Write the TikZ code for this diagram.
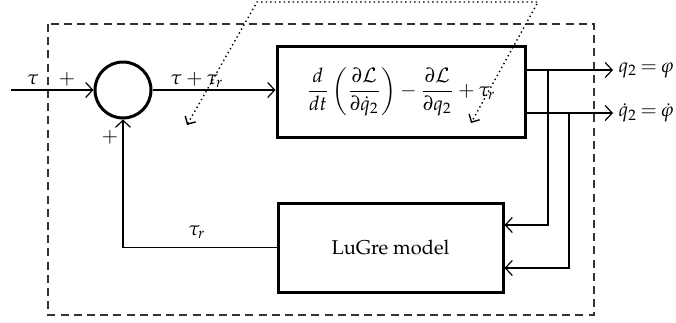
\documentclass[tikz,border=0pt]{standalone}
\usepackage{amsmath}
\usepackage[T1]{fontenc}
\usepackage{mathpazo}
\usetikzlibrary{arrows.meta}
\begin{document}
\begin{tikzpicture}[x=0.5pt,y=-0.5pt,
  blk/.style={draw,line width=1.5pt,inner sep=0pt,align=center},
  sumnode/.style={draw,circle,line width=1.5pt,minimum size=28pt,inner sep=0pt},
  sig/.style={line width=0.6pt,-{Straight Barb[length=3.5pt,width=7.5pt]}},
  plain/.style={line width=0.6pt},
  lbl/.style={inner sep=0pt,font=\normalsize},
  frame/.style={dashed,dash pattern=on 4pt off 2.6pt,line width=0.65pt,draw=black!80},
  dotline/.style={line width=0.7pt,dash pattern=on 0.7pt off 1.55pt,
     {Straight Barb[length=3pt,width=6pt]}-{Straight Barb[length=3pt,width=6pt]}}
]
\useasboundingbox (0,0) rectangle (676,322);
% frame
\draw[frame] (48,24) rectangle (594,315);
% nodes
\node[sumnode] (sum) at (123,90) {};
\node[blk,minimum width=124pt,minimum height=45.5pt] (dyn) at (401,91.5)
  {$\dfrac{d}{dt}\left(\dfrac{\partial\mathcal{L}}{\partial\dot q_2}\right)-\dfrac{\partial\mathcal{L}}{\partial q_2}+\tau_r$};
\node[blk,minimum width=112.5pt,minimum height=44.5pt] (lug) at (390.5,247.5) {LuGre model};
% coordinates
\coordinate (in) at (11,90);
\coordinate (o1) at (613,70);
\coordinate (o2) at (613,113);
\coordinate (b1) at (548,70);
\coordinate (b2) at (569,113);
\coordinate (fb) at (123,247.5);
\coordinate (d1) at (187,125);
\coordinate (d2) at (257,2);
\coordinate (d3) at (538,2);
\coordinate (d4) at (471,123);
% connectors
\draw[sig] (in) -- (sum.west);
\draw[sig] (sum.east) -- (sum.east -| dyn.west);
\draw[sig] (o1 -| dyn.east) -- (o1);
\draw[sig] (o2 -| dyn.east) -- (o2);
\draw[sig] (b1) |- (lug.east |- 0,225);
\draw[sig] (b2) |- (lug.east |- 0,268);
\draw[plain] (lug.west) -- (fb);
\draw[sig] (fb) -- (sum.south);
\draw[dotline] (d1) -- (d2) -- (d3) -- (d4);
% labels
\node[lbl] (ltau) at (33,80) {$\tau$};
\node[lbl] (lp1) at (67,79) {$+$};
\node[lbl] (lp2) at (110,137) {$+$};
\node[lbl] (lsum) at (197,80) {$\tau+\tau_r$};
\node[lbl] (ltr) at (197,232) {$\tau_r$};
\node[lbl,anchor=east] (lq) at (674,70) {$q_2\mskip3mu{=}\mskip3mu\varphi$};
\node[lbl,anchor=east] (lqd) at (674,113) {$\dot q_2\mskip3mu{=}\mskip3mu\dot\varphi$};
\end{tikzpicture}
\end{document}
